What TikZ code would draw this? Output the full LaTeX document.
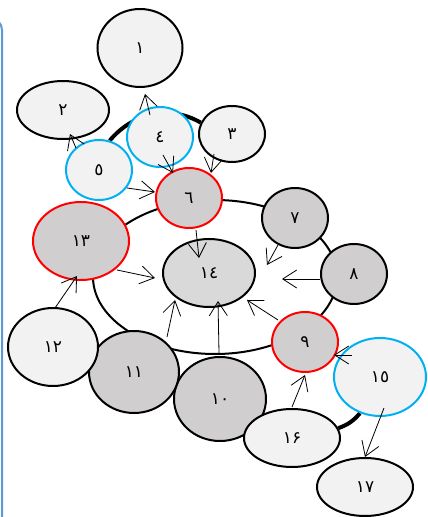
\documentclass[tikz,border=0pt]{standalone}
\usepackage{fontspec}
\newfontfamily\arabicfont[Script=Arabic]{DejaVu Sans}
\usetikzlibrary{shapes.geometric,arrows.meta,backgrounds}
\definecolor{litegray}{HTML}{F2F2F2}
\definecolor{nodegray}{HTML}{D0CECE}
\definecolor{midgray}{HTML}{D9D9D9}
\definecolor{rimblue}{HTML}{00B0F0}
\definecolor{frameblue}{HTML}{5B9BD5}
\begin{document}
\begin{tikzpicture}[x=1pt,y=1pt,
  lite/.style={ellipse, draw=black, fill=litegray, line width=2pt, inner sep=0pt,
    font=\arabicfont\fontsize{17}{19}\selectfont},
  dark/.style={lite, fill=nodegray},
  redrim/.style={draw=red},
  bluerim/.style={draw=rimblue},
  arr/.style={-{Straight Barb[length=14pt,width=18pt]}, line width=0.8pt},
  boldlink/.style={line width=4pt}]
\useasboundingbox (0,0) rectangle (428,517);
\draw[line width=2pt, frameblue] (-10,499) arc[start angle=90, end angle=0, radius=12] -- (2,-5);
\draw[line width=2pt] (215,240) ellipse [x radius=122, y radius=77];

\node[lite, minimum width=85, minimum height=78](n1) at (140,469) {١};
\node[lite, minimum width=92, minimum height=58](n2) at (63,407) {٢};
\node[lite, minimum width=66, minimum height=56](n3) at (232,383) {٣};
\node[lite, bluerim, minimum width=66, minimum height=60](n4) at (160,380) {٤};
\node[lite, bluerim, minimum width=66, minimum height=60](n5) at (99,347) {٥};
\node[dark, redrim, minimum width=66, minimum height=60](n6) at (189,319) {٦};
\node[dark, minimum width=66, minimum height=60](n7) at (295,299) {٧};
\node[dark, minimum width=66, minimum height=60](n8) at (354,243) {٨};
\node[dark, redrim, minimum width=66, minimum height=60](n9) at (305,175) {٩};
\node[dark, minimum width=92, minimum height=84](n10) at (220,118) {١٠};
\node[dark, minimum width=90, minimum height=82](n11) at (134,145) {١١};
\node[lite, minimum width=90, minimum height=78](n12) at (53,170) {١٢};
\node[dark, redrim, minimum width=96, minimum height=78](n13) at (81,276) {١٣};
\node[lite, fill=midgray, minimum width=92, minimum height=68](n14) at (209,244) {١٤};
\node[lite, bluerim, minimum width=92, minimum height=78](n15) at (380,140) {١٥};
\node[lite, minimum width=96, minimum height=58](n16) at (292,79) {۱۶};
\node[lite, minimum width=96, minimum height=58](n17) at (365,30) {١٧};

\begin{scope}[on background layer]
\draw[boldlink] (n5.70) to[out=50, in=150] (n3.160);
\draw[boldlink] (n15.241) to[bend left=15] (n16.12);
\end{scope}

\draw[arr] ([shift={(-10,22)}]n4.center) -- ([shift={(5,-46)}]n1.center);
\draw[arr] ([shift={(-23,22)}]n5.center) -- ([shift={(7,-24)}]n2.center);
\draw[arr] ([shift={(3,-18)}]n4.center) -- ([shift={(-16,25)}]n6.center);
\draw[arr] ([shift={(-18,-20)}]n3.center) -- ([shift={(22,25)}]n6.center);
\draw[arr] ([shift={(28,-18)}]n5.center) -- ([shift={(-34,6)}]n6.center);
\draw[arr] ([shift={(7,-32)}]n6.center) -- ([shift={(-10,15)}]n14.center);
\draw[arr] ([shift={(36,-29)}]n13.center) -- ([shift={(-54,-5)}]n14.center);
\draw[arr] ([shift={(-17,-27)}]n7.center) -- ([shift={(58,8)}]n14.center);
\draw[arr] ([shift={(-34,-5)}]n8.center) -- ([shift={(73,-6)}]n14.center);
\draw[arr] ([shift={(-27,22)}]n9.center) -- ([shift={(38,-27)}]n14.center);
\draw[arr] ([shift={(-1,46)}]n10.center) -- ([shift={(9,-28)}]n14.center);
\draw[arr] ([shift={(33,35)}]n11.center) -- ([shift={(-34,-27)}]n14.center);
\draw[arr] ([shift={(2,39)}]n12.center) -- ([shift={(-4,-35)}]n13.center);
\draw[arr] ([shift={(0,31)}]n16.center) -- ([shift={(0,-33)}]n9.center);
\draw[arr] ([shift={(-28,22)}]n15.center) -- ([shift={(29,-13)}]n9.center);
\draw[arr] ([shift={(4,-31)}]n15.center) -- ([shift={(0,30)}]n17.center);
\end{tikzpicture}
\end{document}
